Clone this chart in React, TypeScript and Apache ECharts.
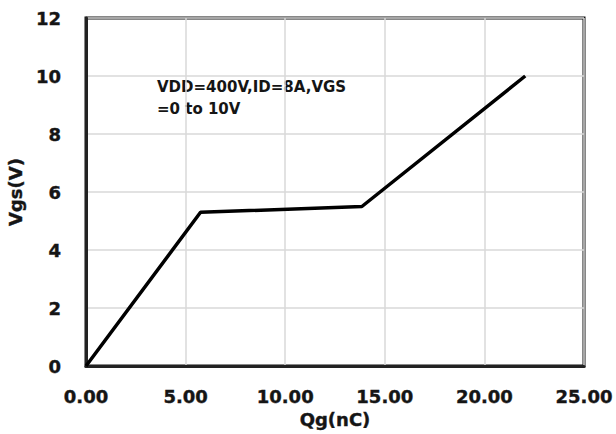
import React, { useEffect, useRef } from "react";
import * as echarts from "echarts";

// Gate charge curve: Qg (nC) vs Vgs (V)
const qg: number[] = [0, 5.75, 13.85, 22.05];
const vgs: number[] = [0, 5.3, 5.5, 10.0];

const xTicks = { min: 0, max: 25, interval: 5 };
const yTicks = { min: 0, max: 12, interval: 2 };

const xTitle = "Qg(nC)";
const yTitle = "Vgs(V)";
const noteLines = ["VDD=400V,ID=8A,VGS", "=0 to 10V"];

const FONT = "DejaVu Sans";
const INK = "#151515";

const boldText = (size: number) => ({
  fontFamily: FONT,
  fontWeight: "bold" as const,
  fontSize: size,
  color: INK,
  textBorderColor: INK,
  textBorderWidth: 0.4,
});

export default function App() {
  const ref = useRef<HTMLDivElement>(null);

  useEffect(() => {
    if (!ref.current) return;
    const chart = echarts.init(ref.current, undefined, { renderer: "svg" });
    const points = qg.map((q, i) => [q, vgs[i]]);

    chart.setOption({
      animation: false,
      backgroundColor: "#ffffff",
      grid: {
        left: 86,
        top: 18,
        width: 498,
        height: 348,
        outerBoundsMode: "none",
        containLabel: false,
        show: true,
        borderColor: "#111111",
        borderWidth: 3,
        backgroundColor: "transparent",
      },
      xAxis: {
        type: "value",
        min: xTicks.min,
        max: xTicks.max,
        interval: xTicks.interval,
        name: xTitle,
        nameLocation: "middle",
        nameGap: 43,
        nameTextStyle: boldText(18),
        axisLine: { show: true, lineStyle: { color: "#222222", width: 3 } },
        axisTick: { show: false },
        axisLabel: {
          margin: 21,
          ...boldText(18),
          formatter: (v: number) => v.toFixed(2),
        },
        splitLine: { show: true, lineStyle: { color: "#d9d9d9", width: 1.5 } },
      },
      yAxis: {
        type: "value",
        min: yTicks.min,
        max: yTicks.max,
        interval: yTicks.interval,
        name: yTitle,
        nameLocation: "middle",
        nameGap: 62,
        nameTextStyle: boldText(18),
        axisLine: { show: true, lineStyle: { color: "#222222", width: 3 } },
        axisTick: { show: false },
        axisLabel: {
          margin: 25,
          ...boldText(18),
        },
        splitLine: { show: true, lineStyle: { color: "#d9d9d9", width: 1.5 } },
      },
      graphic: [
        {
          type: "text",
          left: 157,
          top: 76,
          style: {
            text: noteLines.join("\n"),
            fontFamily: FONT,
            fontWeight: "bold",
            fontSize: 15,
            lineHeight: 22,
            fill: INK,
          },
        },
      ],
      series: [
        {
          type: "line",
          data: points,
          symbol: "none",
          lineStyle: { color: "#000000", width: 3.5 },
          z: 5,
        },
      ],
    });

    return () => chart.dispose();
  }, []);

  return (
    <div
      ref={ref}
      style={{ position: "fixed", left: 0, top: 0, width: 616, height: 434, background: "#fff" }}
    />
  );
}
